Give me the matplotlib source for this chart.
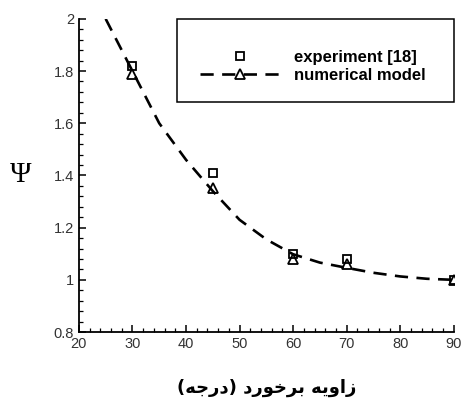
import matplotlib.pyplot as plt
from matplotlib.lines import Line2D
from matplotlib.patches import Rectangle
from matplotlib.ticker import MultipleLocator

# experiment [18]
exp_angle = [30, 45, 60, 70, 90]
exp_psi = [1.82, 1.41, 1.10, 1.08, 1.00]

# numerical model points
num_angle = [30, 45, 60, 70, 90]
num_psi = [1.79, 1.35, 1.08, 1.06, 1.00]

# dashed fit curve
curve_angle = [25, 30, 35, 40, 45, 50, 55, 60, 65, 70, 75, 80, 85, 90]
curve_psi = [2.0, 1.80, 1.60, 1.46, 1.34, 1.23, 1.155, 1.098, 1.066, 1.046,
             1.027, 1.013, 1.004, 1.0]

# "زاویه برخورد (درجه)" in visual order with presentation forms
xlabel_text = ("(\uFEEA\uFE9F\uFEAD\uFEA9) "
               "\uFEA9\uFEAD\uFEEE\uFEA7\uFEAE\uFE91 "
               "\uFEEA\uFBFE\uFEED\uFE8D\uFEAF")

plt.rcParams["font.family"] = ["Liberation Sans", "DejaVu Sans"]

fig = plt.figure(figsize=(4.64, 4.01), dpi=100)
ax = fig.add_axes([0.170, 0.172, 0.808, 0.781])

dash = (5.0, 3.2)
ax.plot(curve_angle, curve_psi, color="black", lw=1.9, dashes=dash)
ax.plot(exp_angle, exp_psi, ls="none", marker="s", ms=6.2, mfc="none",
        mec="black", mew=1.3)
ax.plot(num_angle, num_psi, ls="none", marker="^", ms=6.5, mfc="none",
        mec="black", mew=1.3)

ax.set_xlim(20, 90)
ax.set_ylim(0.8, 2.0)
ax.xaxis.set_major_locator(MultipleLocator(10))
ax.xaxis.set_minor_locator(MultipleLocator(2))
ax.yaxis.set_minor_locator(MultipleLocator(0.04))
ax.set_yticks([0.8, 1.0, 1.2, 1.4, 1.6, 1.8, 2.0])
ax.set_yticklabels(["0.8", "1", "1.2", "1.4", "1.6", "1.8", "2"])

for side in ["top", "right"]:
    ax.spines[side].set_visible(False)
for side in ["left", "bottom"]:
    ax.spines[side].set_linewidth(1.3)

ax.tick_params(which="major", direction="in", length=5, width=1.1,
               labelsize=10.5, pad=3.5, colors="black")
ax.tick_params(which="minor", direction="in", length=3, width=0.9)
for lab in ax.get_yticklabels() + ax.get_xticklabels():
    lab.set_color("#333333")

ax.set_ylabel("\u03A8", fontsize=21, family="Liberation Serif", rotation=0,
              labelpad=24, va="center")
ax.set_xlabel(xlabel_text, fontsize=13, fontweight="bold",
              family=["DejaVu Sans"], labelpad=20)

# legend box
ax.add_patch(Rectangle((0.261, 0.735), 0.739, 0.265, transform=ax.transAxes,
                       fill=False, edgecolor="black", lw=1.1, clip_on=False,
                       zorder=3))
handles = [
    Line2D([], [], ls="none", marker="s", ms=6.2, mfc="none", mec="black",
           mew=1.3, color="black"),
    Line2D([], [], color="black", lw=1.9, dashes=dash, marker="^",
           ms=6.5, mfc="none", mec="black", mew=1.3),
]
ax.legend(handles, ["experiment [18]", "numerical model"],
          loc="upper left", bbox_to_anchor=(0.284, 0.95), frameon=False,
          handlelength=4.7, handletextpad=0.9, labelspacing=0.2,
          prop={"weight": "bold", "size": 12})

fig.savefig("out.png", dpi=100)
